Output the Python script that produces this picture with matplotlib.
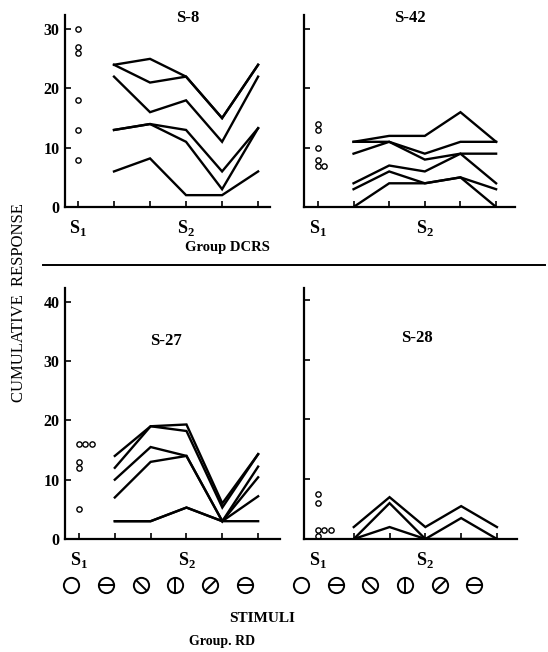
import numpy as np
import matplotlib
matplotlib.use('Agg')
import matplotlib.pyplot as plt
from matplotlib.path import Path
from matplotlib.transforms import blended_transform_factory

plt.rcParams['font.family'] = ['Liberation Serif', 'DejaVu Serif']
plt.rcParams['font.weight'] = 'bold'
plt.rcParams['mathtext.fontset'] = 'custom'
plt.rcParams['mathtext.rm'] = 'Liberation Serif:bold'
plt.rcParams['mathtext.bf'] = 'Liberation Serif:bold'

#stimulus positions: S1 then the five S2 test stimuli
positions = [1, 2, 3, 4, 5]

#S-8 (group DCRS)
s8_s1 = [30, 27, 26, 18, 13, 8]
s8_lines = [[24, 25, 22, 15, 24],
            [24, 21, 22, 15, 24],
            [22, 16, 18, 11, 22],
            [13, 14, 13, 6, 13.3],
            [13, 14, 11, 3, 13.3],
            [6, 8.2, 2, 2, 6]]

#S-42 (group DCRS)
s42_s1 = [14, 13, 10, 8, 7, 7]
s42_lines = [[11, 12, 12, 16, 11],
             [11, 11, 9, 11, 11],
             [9, 11, 8, 9, 9],
             [4, 7, 6, 9, 4],
             [3, 6, 4, 5, 3],
             [0, 4, 4, 5, 0]]

#S-27 (group RD)
s27_s1 = [16, 16, 16, 13, 12, 5]
s27_lines = [[14, 19, 19.3, 6, 14.3],
             [12, 19, 18.2, 5.3, 14.3],
             [10, 15.5, 14, 3, 12.2],
             [7, 13, 14, 3, 10.4],
             [3, 3, 5.3, 3, 3],
             [3, 3, 5.3, 3, 7.2]]

#S-28 (group RD)
s28_s1 = [7.5, 6, 1.5, 1.5, 1.5, 0.5]
s28_lines = [[2, 7, 2, 5.5, 2],
             [0, 6, 0, 3.5, 0],
             [0, 2, 0, 0, 0]]

fig = plt.figure(figsize=(5.48, 6.52), dpi=100)

def panel(rect, s1, lines, title, title_xy, ylim, xlim, ylabels, yticks):
    ax = fig.add_axes(rect)
    for ln in lines:
        ax.plot(positions, ln, color='black', lw=1.7, solid_joinstyle='miter')
    #side by side circles when a value repeats
    xs = []
    seen = {}
    for v in s1:
        k = seen.get(v, 0)
        xs.append(0 + 0.18 * k)
        seen[v] = k + 1
    ax.plot(xs, s1, 'o', mfc='white', mec='black', ms=3.8, mew=1.0, clip_on=False)
    ax.set_xlim(*xlim)
    ax.set_ylim(*ylim)
    for s in ['top', 'right']:
        ax.spines[s].set_visible(False)
    for s in ['left', 'bottom']:
        ax.spines[s].set_linewidth(1.6)
    ax.set_xticks([0, 1, 2, 3, 4, 5])
    ax.set_xticklabels([r'$\mathbf{S}_{\mathbf{1}}$', '', '', r'$\mathbf{S}_{\mathbf{2}}$', '', ''])
    ax.set_yticks(yticks)
    if ylabels:
        ax.set_yticklabels([str(t) for t in yticks])
    else:
        ax.set_yticklabels([])
    ax.tick_params(direction='in', length=4, width=1.2, labelsize=11.5, pad=4)
    ax.tick_params(axis='x', pad=8, labelsize=13)
    for lab in ax.get_xticklabels():
        lab.set_x(lab.get_position()[0])
    ax.text(title_xy[0], title_xy[1], title, transform=ax.transAxes,
            ha='center', va='center', fontsize=12, fontweight='bold')
    return ax

top_b = 1 - 207 / 652
top_h = (207 - 15) / 652
bot_b = 1 - 539 / 652
bot_h = (539 - 288) / 652

ax1 = panel([65 / 548, top_b, 205 / 548, top_h], s8_s1, s8_lines, 'S-8',
            (0.6, 0.985), (0, 32.4), (-0.36, 5.33), True, [0, 10, 20, 30])
ax2 = panel([304 / 548, top_b, 211 / 548, top_h], s42_s1, s42_lines, 'S-42',
            (0.5, 0.985), (0, 32.4), (-0.39, 5.53), False, [0, 10, 20, 30])
ax3 = panel([65 / 548, bot_b, 215 / 548, bot_h], s27_s1, s27_lines, 'S-27',
            (0.47, 0.79), (0, 42.3), (-0.39, 5.61), True, [0, 10, 20, 30, 40])
ax4 = panel([304 / 548, bot_b, 213 / 548, bot_h], s28_s1, s28_lines, 'S-28',
            (0.53, 0.8), (0, 42), (-0.39, 5.56), False, [0, 10, 20, 30, 40])

#stimulus symbols under the bottom panels
r = 0.7071
diag_back = Path([(-1, 0), (-r, r), (r, -r)], [Path.MOVETO, Path.MOVETO, Path.LINETO])
diag_fwd = Path([(-1, 0), (-r, -r), (r, r)], [Path.MOVETO, Path.MOVETO, Path.LINETO])
inner = [None, '_', diag_back, '|', diag_fwd, '_']
for ax, off in [(ax3, -0.22), (ax4, -0.48)]:
    tr = blended_transform_factory(ax.transData, fig.transFigure)
    for i, m in enumerate(inner):
        x = i + off - 0.03 * i
        ax.plot([x], [1 - 585 / 652], 'o', mfc='none', mec='black', ms=11, mew=1.4,
                transform=tr, clip_on=False)
        if m is not None:
            ax.plot([x], [1 - 585 / 652], marker=m, color='black', ms=11, mew=1.4,
                    transform=tr, clip_on=False, linestyle='none')

fig.text(227 / 548, 1 - 248 / 652, 'Group DCRS', ha='center', va='center', fontsize=10.5)
fig.text(262 / 548, 1 - 619 / 652, 'STIMULI', ha='center', va='center', fontsize=11)
fig.text(222 / 548, 1 - 641 / 652, 'Group. RD', ha='center', va='center', fontsize=10)
fig.text(19 / 548, 1 - 303 / 652, 'CUMULATIVE  RESPONSE', rotation=90, ha='center',
         va='center', fontsize=12, fontweight='normal')
fig.add_artist(plt.Line2D([43 / 548, 545 / 548], [1 - 265 / 652, 1 - 265 / 652],
                          color='black', lw=1.4, transform=fig.transFigure))

fig.savefig('out.png', dpi=100)
